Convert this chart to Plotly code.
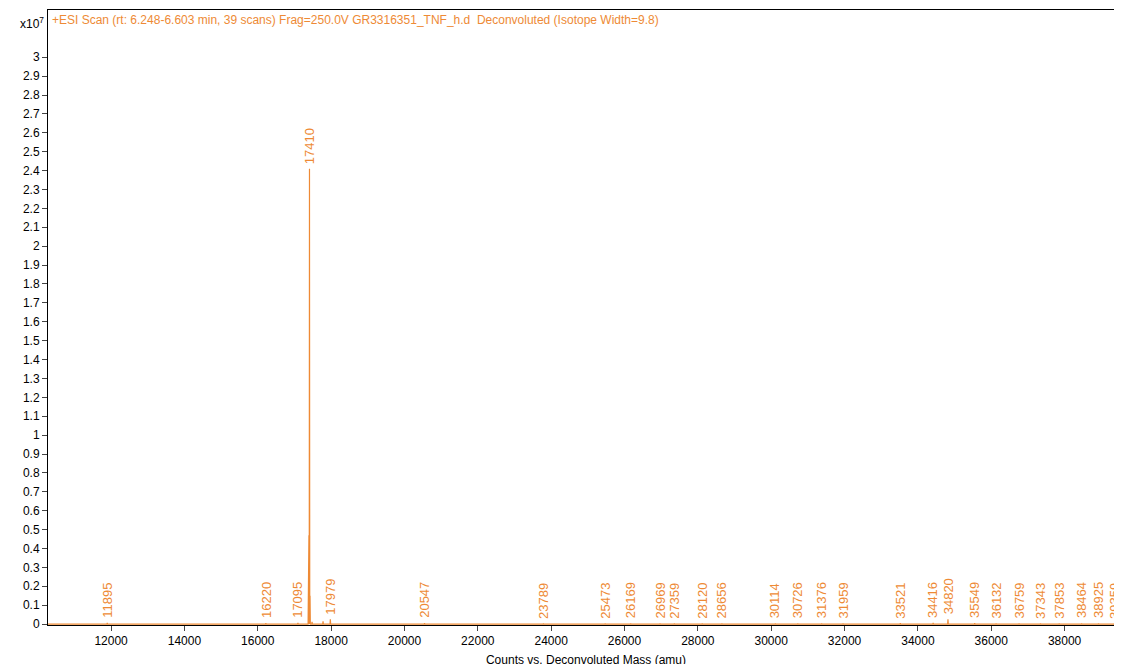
import plotly.graph_objects as go

peak_mass = [11895, 16220, 17095, 17380, 17395, 17410, 17425, 17480, 17780, 17979, 20547, 23789, 25473, 26169,
             26969, 27359, 28120, 28656, 30114, 30726, 31376, 31959, 33521, 34416, 34820, 35549,
             36132, 36759, 37343, 37853, 38464, 38925, 39359]
peak_int = [0.006, 0.005, 0.006, 0.25, 0.47, 2.41, 0.15, 0.012, 0.015, 0.025, 0.004, 0.003, 0.003, 0.003,
            0.003, 0.003, 0.003, 0.003, 0.003, 0.003, 0.003, 0.003, 0.004, 0.006, 0.025, 0.004,
            0.003, 0.003, 0.003, 0.003, 0.003, 0.003, 0.003]
labeled = [11895, 16220, 17095, 17410, 17979, 20547, 23789, 25473, 26169, 26969, 27359, 28120, 28656,
           30114, 30726, 31376, 31959, 33521, 34416, 34820, 35549, 36132, 36759, 37343, 37853,
           38464, 38925, 39359]
x_ticks = list(range(12000, 39000, 2000))
y_ticks = [i / 10 for i in range(31)]
x_range = [10280, 39620]

xs, ys = [x_range[0]], [0.0]
for m, h in zip(peak_mass, peak_int):
    xs += [m - 8, m, m + 8]
    ys += [0.0, h, 0.0]
xs.append(x_range[1]); ys.append(0.0)

ORANGE = "#EE8A35"
FONT = "Liberation Sans, Arial"
fig = go.Figure(go.Scatter(x=xs, y=ys, mode="lines", line=dict(color=ORANGE, width=1.2),
                           hoverinfo="skip"))
lookup = dict(zip(peak_mass, peak_int))
for m in labeled:
    fig.add_annotation(x=m, y=lookup[m], text=str(m), textangle=-90, showarrow=False,
                       xanchor="center", yanchor="bottom", yshift=3,
                       font=dict(family=FONT, size=13, color=ORANGE))
fig.add_annotation(xref="paper", yref="paper", x=0.002, y=0.999, xanchor="left", yanchor="top",
                   text="+ESI Scan (rt: 6.248-6.603 min, 39 scans) Frag=250.0V GR3316351_TNF_h.d  Deconvoluted (Isotope Width=9.8)",
                   showarrow=False, font=dict(family=FONT, size=12, color=ORANGE))
fig.add_annotation(xref="paper", yref="paper", x=-0.002, y=0.995, xanchor="right", yanchor="top",
                   text="x10<sup>7</sup>", showarrow=False,
                   font=dict(family=FONT, size=12, color="black"))

fig.update_layout(
    width=1122, height=664, margin=dict(l=40, r=6, t=2, b=47, autoexpand=False),
    paper_bgcolor="white", plot_bgcolor="white", showlegend=False,
    font=dict(family=FONT, size=12, color="black"),
    xaxis=dict(range=x_range, tickvals=x_ticks, ticktext=[str(v) for v in x_ticks], showgrid=False,
               zeroline=False, automargin=False,
               showline=True, linecolor="black", mirror=True, ticks="outside", ticklen=5,
               title=dict(text="Counts vs. Deconvoluted Mass (amu)", standoff=8, font=dict(size=12))),
    yaxis=dict(range=[-0.005, 3.25], tickvals=y_ticks, automargin=False,
               ticktext=[f"{v:g}" for v in y_ticks], showgrid=False, zeroline=False,
               showline=True, linecolor="black", mirror=True, ticks="outside", ticklen=5),
)
fig.write_html("out.html")
